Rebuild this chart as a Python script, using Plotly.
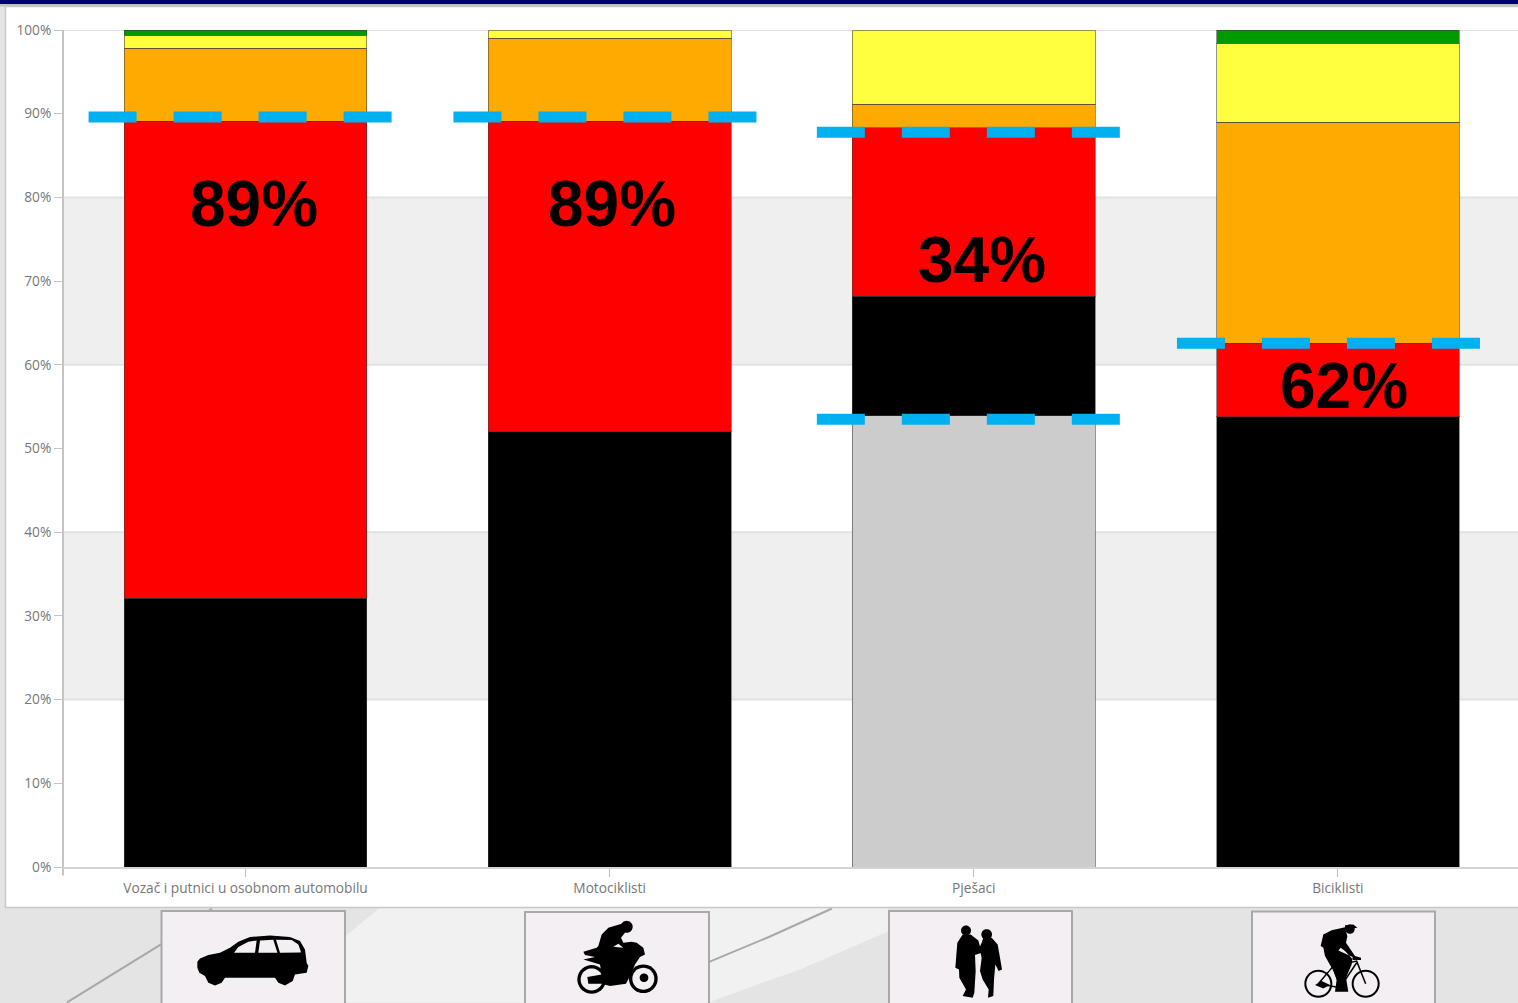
import math
import plotly.graph_objects as go

categories = ["Vozač i putnici u osobnom automobilu", "Motociklisti", "Pješaci", "Biciklisti"]
gray = [None, None, 53.9, None]
black = [32.1, 52.0, 14.3, 53.8]
red = [57.0, 37.1, 20.1, 8.8]
orange = [8.75, 9.9, 2.8, 26.4]
yellow = [1.55, 1.0, 8.9, 9.4]
green = [0.6, None, None, 1.6]
pct_labels = ["89%", "89%", "34%", "62%"]
pct_y = [79.18, 79.18, 72.58, 57.48]
pct_shift = [8.5, 2.5, 8, 6]
threshold_cat = [0, 1, 2, 2, 3]
threshold_val = [89.62, 89.62, 87.78, 53.5, 62.58]
threshold_off = [-0.0135, -0.0115, -0.0135, -0.0135, -0.0245]
y_ticks = list(range(0, 101, 10))
y_ticktext = [f"{v}%" for v in y_ticks]

W, H = 1518, 1003
L, R, T, B = 63, 1518, 30, 867.5


def px(x):
    return (x - L) / (R - L)


def py(y):
    return (B - y) / (B - T)


def poly(points):
    return "M" + " L".join(f"{px(x):.5f},{py(y):.5f}" for x, y in points) + " Z"


def crop(points, ox, oy):
    return [(ox + x / 3, oy + y / 3) for x, y in points]


def circle(cx, cy, r):
    return [(cx + r * math.cos(i * math.pi / 18), cy + r * math.sin(i * math.pi / 18)) for i in range(36)]


shapes = []


def add_poly(points, fill, line=None, width=0, layer="above"):
    shapes.append(dict(type="path", path=poly(points), xref="paper", yref="paper", fillcolor=fill,
                       line=dict(color=line or fill, width=width), layer=layer))


def add_rect(x0, y0, x1, y1, fill, line=None, width=0):
    shapes.append(dict(type="rect", xref="paper", yref="paper", x0=px(x0), x1=px(x1), y0=py(y0), y1=py(y1),
                       fillcolor=fill, line=dict(color=line or fill, width=width), layer="below"))


def add_segments(points, color, width):
    d = "M" + " L".join(f"{px(x):.5f},{py(y):.5f}" for x, y in points)
    shapes.append(dict(type="path", path=d, xref="paper", yref="paper", line=dict(color=color, width=width), layer="above"))


# page backdrop
DARK, LIGHT, CARD = "#e4e4e4", "#f1f1f1", "#f3eff3"
add_rect(0, 0, W, H, DARK)
add_poly([(380, 908), (345, 937), (345, 1003), (708, 1003), (800, 970), (888, 932), (888, 908)], LIGHT, layer="below")
for seg in ([(67, 1003), (161, 945), (212, 909)], [(708, 963), (770, 937), (832, 909)]):
    d = "M" + " L".join(f"{px(x):.5f},{py(y):.5f}" for x, y in seg)
    shapes.append(dict(type="path", path=d, xref="paper", yref="paper", line=dict(color="#a8a8a8", width=2), layer="below"))
add_rect(0, 0, W, 4, "#000070")
add_rect(0, 4, W, 6.5, "#c0c0c0")
add_rect(5.5, 6.5, W + 4, 908, "#ffffff", "#c8c8c8", 1.5)
for x0, x1, y0 in [(161.5, 345, 911.5), (525, 709, 912.5), (889, 1072, 911.5), (1252, 1435, 912)]:
    add_rect(x0, y0, x1, H + 4, CARD, "#a8a8a8", 2)

# plot bands and grid
for lo in (20, 60):
    shapes.append(dict(type="rect", xref="paper", yref="y", x0=0, x1=1, y0=lo, y1=lo + 20,
                       fillcolor="#efefef", line=dict(width=0), layer="below"))
for v in (20, 40, 60, 80, 100):
    shapes.append(dict(type="line", xref="paper", yref="y", x0=0, x1=1, y0=v, y1=v,
                       line=dict(color="#e2e2e2", width=2), layer="below"))
shapes.append(dict(type="line", xref="paper", yref="paper", x0=0, x1=0, y0=py(876), y1=1,
                   line=dict(color="#c4c4c4", width=2), layer="below"))

# car
ox, oy = 170, 925
add_poly(crop([(82, 112), (90, 102), (115, 92), (150, 85), (180, 70), (205, 52), (240, 38), (300, 33), (360, 38),
               (390, 50), (405, 75), (410, 115), (415, 125), (410, 145), (375, 150), (368, 170), (345, 183),
               (325, 175), (315, 160), (165, 160), (155, 175), (135, 183), (115, 175), (105, 155), (88, 145),
               (82, 130)], ox, oy), "#000000")
for w in ([(192, 85), (205, 68), (235, 52), (260, 48), (255, 85)], [(265, 85), (270, 48), (310, 46), (322, 85)],
          [(330, 85), (318, 46), (365, 47), (385, 60), (392, 80), (392, 84)]):
    add_poly(crop(w, ox, oy), CARD)

# motorcycle
ox, oy = 560, 915
for cx, cy in [(95, 195), (250, 193)]:
    add_poly(crop(circle(cx, cy, 43), ox, oy), "#000000")
    add_poly(crop(circle(cx, cy, 33), ox, oy), CARD)
add_poly(crop(circle(252, 190, 13), ox, oy), "#000000")
add_poly(crop(circle(200, 37, 18), ox, oy), "#000000")
add_poly(crop([(70, 112), (110, 100), (115, 95), (125, 60), (145, 40), (185, 28), (195, 55), (183, 70), (190, 85),
               (215, 82), (230, 85), (250, 100), (255, 120), (240, 128), (225, 150), (215, 175), (198, 208),
               (150, 215), (125, 208), (85, 208), (82, 188), (125, 180), (120, 150), (70, 135), (105, 128),
               (75, 122)], ox, oy), "#000000")
add_poly(crop([(160, 97), (175, 88), (190, 100)], ox, oy), CARD)

# pedestrians
ox, oy = 930, 915
add_poly(crop(circle(108, 48, 15), ox, oy), "#000000")
add_poly(crop([(82, 85), (98, 60), (122, 60), (145, 78), (155, 115), (135, 122), (137, 170), (133, 235), (128, 250),
               (98, 245), (108, 225), (88, 190), (87, 165), (76, 160), (80, 110)], ox, oy), "#000000")
add_poly(crop(circle(170, 60, 16), ox, oy), "#000000")
add_poly(crop([(155, 85), (160, 70), (185, 70), (203, 90), (210, 130), (216, 165), (206, 170), (196, 150), (192, 195),
               (190, 245), (174, 250), (176, 225), (158, 195), (150, 170), (155, 130), (148, 100)], ox, oy), "#000000")

# cyclist
ox, oy = 1290, 915
for cx, cy in [(85, 208), (227, 208)]:
    add_poly(crop(circle(cx, cy, 42), ox, oy), "#000000")
    add_poly(crop(circle(cx, cy, 36), ox, oy), CARD)
add_segments(crop([(85, 208), (130, 155), (200, 140), (227, 208)], ox, oy), "#000000", 1.5)
add_segments(crop([(85, 208), (150, 220), (200, 145)], ox, oy), "#000000", 1.5)
add_segments(crop([(130, 155), (150, 220)], ox, oy), "#000000", 1.5)
add_poly(crop(circle(180, 44, 14), ox, oy), "#000000")
add_poly(crop([(165, 32), (190, 30), (202, 40), (165, 45)], ox, oy), "#000000")
add_poly(crop([(92, 95), (100, 60), (125, 47), (165, 38), (172, 65), (168, 85), (195, 125), (213, 130), (213, 137),
               (190, 137), (165, 110), (152, 100), (145, 108), (188, 128), (185, 150), (168, 190), (175, 232),
               (135, 232), (140, 195), (128, 165), (105, 125), (100, 100)], ox, oy), "#000000")
add_poly(crop([(75, 212), (95, 200), (120, 212), (100, 222)], ox, oy), "#000000")

x_pos = list(range(len(categories)))
edge = "rgba(60,60,60,0.55)"
fig = go.Figure()
for name, vals, col in [("Siva", gray, "#cccccc"), ("Crna", black, "#000000"), ("Crvena", red, "#ff0000"),
                        ("Narančasta", orange, "#ffaa00"), ("Žuta", yellow, "#ffff40"), ("Zelena", green, "#009900")]:
    fig.add_trace(go.Bar(x=x_pos, y=vals, name=name, marker=dict(color=col, line=dict(color=edge, width=1))))

HALF = 0.4175
for c, v, off in zip(threshold_cat, threshold_val, threshold_off):
    fig.add_trace(go.Scatter(x=[c + off - HALF, c + off + HALF], y=[v, v], mode="lines",
                             line=dict(color="#00b0f0", width=11, dash="48px,37px"), hoverinfo="skip"))

annotations = [dict(x=c, y=y, xref="x", yref="y", text=t, showarrow=False, xshift=s,
                    font=dict(family="Liberation Sans", size=64, color="#000000", weight="bold"))
               for c, y, t, s in zip(x_pos, pct_y, pct_labels, pct_shift)]

fig.update_layout(
    width=W, height=H, barmode="stack", bargap=1 / 3, showlegend=False,
    margin=dict(l=L, r=W - R, t=T, b=H - B, pad=0),
    paper_bgcolor=DARK, plot_bgcolor="rgba(0,0,0,0)",
    shapes=shapes, annotations=annotations,
    font=dict(family="Open Sans", size=14, color="#777777"),
    xaxis=dict(range=[-0.5013, 3.4947], tickmode="array", tickvals=x_pos, ticktext=categories, ticks="outside", ticklen=8,
               tickcolor="#bdbdbd", tickwidth=1, showgrid=False, zeroline=False, showline=True, linecolor="#d4d4d4",
               linewidth=2, tickfont=dict(size=13.7, color="#777777")),
    yaxis=dict(range=[0, 100], tickmode="array", tickvals=y_ticks, ticktext=y_ticktext, ticks="outside", ticklen=8,
               tickcolor="#c4c4c4", tickwidth=1, showgrid=False, zeroline=False, showline=False,
               tickfont=dict(size=13.7, color="#777777")),
)

fig.write_html("out.html", config=dict(displayModeBar=False),
               post_script="document.body.style.margin='0';document.body.style.overflow='hidden';")
